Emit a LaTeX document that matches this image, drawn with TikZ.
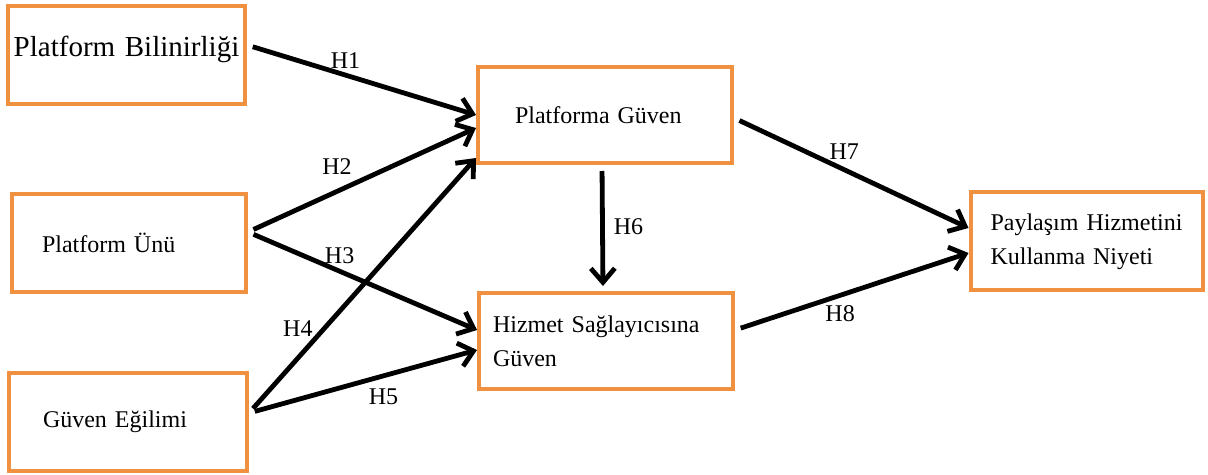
\documentclass[tikz,border=0pt]{standalone}
\usepackage{fontspec}
\setmainfont{Liberation Serif}
\usetikzlibrary{arrows.meta,positioning,calc}
\definecolor{kututuruncu}{RGB}{240,145,65}
\tikzset{
  kutu/.style={draw=kututuruncu, line width=2pt, align=left, minimum height=49pt,
    inner ysep=0pt, font=\fontsize{12}{17}\selectfont},
  ok/.style={line width=2.4pt, shorten <=3pt, -{Straight Barb[length=7pt,width=12pt]}},
  hip/.style={font=\fontsize{12}{14}\selectfont, inner sep=1pt}
}
\begin{document}
\begin{tikzpicture}[x=0.5pt,y=-0.5pt]
\useasboundingbox (0,0) rectangle (1208,475);
\node[kutu, font=\fontsize{14.5}{17}\selectfont, align=center, text width=113pt, inner xsep=2.75pt] (bil) at (126.5,55.5) {\raisebox{3pt}[\height][\depth]{Platform Bilinirliği}};
\node[kutu, text width=87pt, inner xsep=15pt] (unu) at (129,243) {Platform Ünü};
\node[kutu, text width=85pt, inner xsep=17pt] (egilim) at (128,422) {Güven Eğilimi};
\node[kutu, text width=90pt, inner xsep=18.5pt, minimum height=48pt] (pguven) at (605,115) {Platforma Güven};
\node[kutu, text width=113pt, inner xsep=7pt, minimum height=48pt] (hguven) at (606,341) {Hizmet Sağlayıcısına\\Güven};
\node[kutu, text width=96pt, inner xsep=10pt] (niyet) at (1086.5,241.5) {Paylaşım Hizmetini\\Kullanma Niyeti};

\draw[ok] ([yshift=5.25pt]bil.east) -- (pguven.west) node[hip, pos=0.43, yshift=7.5pt] (h1) {H1};
\draw[ok] ([yshift=5.5pt]unu.east) -- ([yshift=-6.5pt]pguven.west) node[hip, pos=0.39, yshift=12.5pt] (h2) {H2};
\draw[ok] ([yshift=5.5pt]unu.east) -- ([yshift=5.5pt]hguven.west) node[hip, pos=0.4, yshift=8pt] (h3) {H3};
\draw[ok] ([yshift=4.5pt]egilim.east) -- ([yshift=-21.5pt]pguven.west) node[hip, pos=0.33, xshift=-13pt] (h4) {H4};
\draw[ok] ([yshift=4.5pt]egilim.east) -- ([yshift=-4.5pt]hguven.west) node[hip, pos=0.59, yshift=-10.5pt] (h5) {H5};
\draw[ok, shorten >=2.5pt] ([xshift=-1.5pt]pguven.south) -- ([xshift=-1.5pt]hguven.north) node[hip, pos=0.49, xshift=13pt] (h6) {H6};
\draw[ok] ([yshift=-1.5pt]pguven.east) -- ([yshift=6.75pt]niyet.west) node[hip, pos=0.47, yshift=9pt] (h7) {H7};
\draw[ok] ([yshift=5.5pt]hguven.east) -- ([yshift=-5.75pt]niyet.west) node[hip, pos=0.45, yshift=-9pt] (h8) {H8};
\end{tikzpicture}
\end{document}
